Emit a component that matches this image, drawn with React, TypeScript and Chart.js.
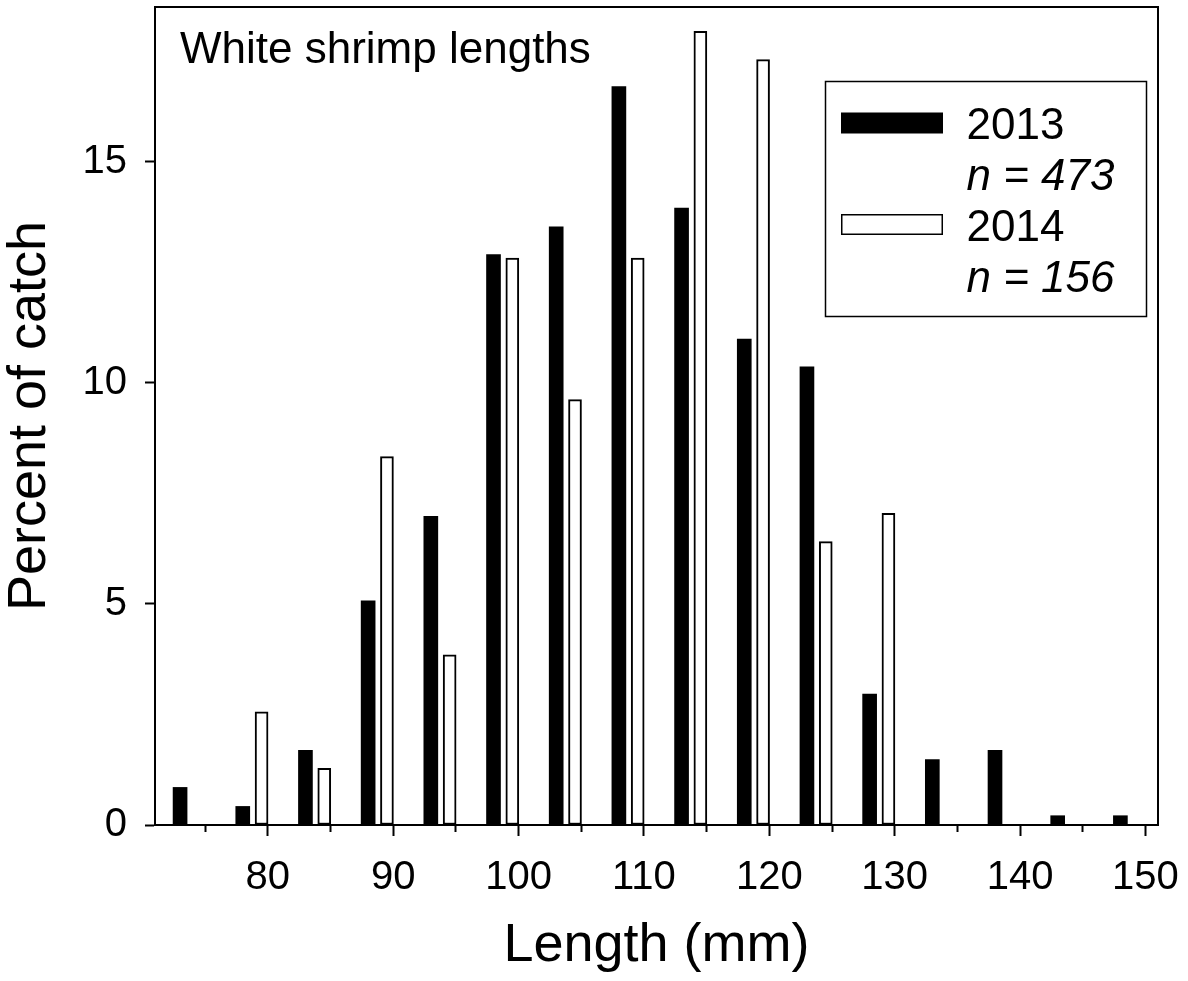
import React, { useEffect, useRef } from 'react';
import { Chart, registerables } from 'chart.js';

Chart.register(...registerables);

// ---- Data ----
const chartTitle = 'White shrimp lengths';
const xAxisTitle = 'Length (mm)';
const yAxisTitle = 'Percent of catch';

const years = ['2013', '2014'];
const sampleSizes = [473, 156];

// bar positions along the length axis (mm)
const lengths2013 = [73, 78, 83, 88, 93, 98, 103, 108, 113, 118, 123, 128, 133, 138, 143, 148];
const percent2013 = [0.85, 0.42, 1.69, 5.07, 6.98, 12.9, 13.53, 16.7, 13.95, 10.99, 10.36, 2.96, 1.48, 1.69, 0.21, 0.21];

const lengths2014 = [79.5, 84.5, 89.5, 94.5, 99.5, 104.5, 109.5, 114.5, 119.5, 124.5, 129.5];
const percent2014 = [2.56, 1.28, 8.33, 3.85, 12.82, 9.62, 12.82, 17.95, 17.31, 6.41, 7.05];

const xMajorTicks = [80, 90, 100, 110, 120, 130, 140, 150];
const xMinorTicks = [75, 85, 95, 105, 115, 125, 135, 145];
const yTicks = [0, 5, 10, 15];

const xMin = 71;
const xMax = 151;
const yMin = 0;
const yMax = 18.5;

const FONT = '"Liberation Sans", Arial, Helvetica, sans-serif';

const framePlugin = {
  id: 'frame',
  afterDatasetsDraw(chart: any) {
    const { ctx, chartArea } = chart;
    ctx.save();
    ctx.strokeStyle = '#000';
    ctx.lineWidth = 2;
    ctx.strokeRect(chartArea.left, chartArea.top, chartArea.right - chartArea.left, chartArea.bottom - chartArea.top);
    ctx.restore();
  },
};

const innerTitlePlugin = {
  id: 'innerTitle',
  afterDraw(chart: any) {
    const { ctx, chartArea } = chart;
    ctx.save();
    ctx.fillStyle = '#000';
    ctx.font = `44px ${FONT}`;
    ctx.textAlign = 'left';
    ctx.textBaseline = 'alphabetic';
    ctx.fillText(chartTitle, chartArea.left + 25, chartArea.top + 56);
    ctx.restore();
  },
};

const boxLegendPlugin = {
  id: 'boxLegend',
  afterDraw(chart: any) {
    const { ctx, chartArea } = chart;
    const boxW = 321;
    const boxH = 235;
    const x0 = chartArea.right - 11.5 - boxW;
    const y0 = chartArea.top + 74.5;
    ctx.save();
    ctx.fillStyle = '#fff';
    ctx.fillRect(x0, y0, boxW, boxH);
    ctx.strokeStyle = '#000';
    ctx.lineWidth = 1.5;
    ctx.strokeRect(x0, y0, boxW, boxH);
    chart.data.datasets.forEach((ds: any, i: number) => {
      const sx = x0 + 15.5;
      const sy = y0 + 31 + i * 101.5;
      const sw = 102;
      const sh = 21;
      ctx.fillStyle = ds.backgroundColor;
      ctx.fillRect(sx, sy, sw, sh);
      if (ds.borderWidth) {
        ctx.strokeStyle = ds.borderColor;
        ctx.lineWidth = 1.5;
        ctx.strokeRect(sx + 0.75, sy + 0.75, sw - 1.5, sh - 1.5);
      }
      ctx.fillStyle = '#000';
      ctx.textAlign = 'left';
      ctx.textBaseline = 'alphabetic';
      ctx.font = `44px ${FONT}`;
      const baseline = sy + sh / 2 + 16;
      ctx.fillText(years[i], x0 + 141, baseline);
      ctx.font = `italic 44px ${FONT}`;
      ctx.fillText(`n = ${sampleSizes[i]}`, x0 + 141, baseline + 51);
    });
    ctx.restore();
  },
};

const zeroPadding = (s: any) => {
  s.paddingTop = 0;
  s.paddingBottom = 0;
  s.paddingLeft = 0;
  s.paddingRight = 0;
};

export default function App() {
  const canvasRef = useRef<HTMLCanvasElement | null>(null);

  useEffect(() => {
    if (!canvasRef.current) return;
    Chart.defaults.font.family = FONT;
    Chart.defaults.color = '#000';

    const chart = new Chart(canvasRef.current, {
      type: 'bar',
      data: {
        datasets: [
          {
            label: years[0],
            data: lengths2013.map((x, i) => ({ x, y: percent2013[i] })),
            backgroundColor: '#000',
            borderColor: '#000',
            borderWidth: 0,
            barThickness: 14,
            grouped: false,
            xAxisID: 'x',
            yAxisID: 'y',
          },
          {
            label: years[1],
            data: lengths2014.map((x, i) => ({ x, y: percent2014[i] })),
            backgroundColor: '#fff',
            borderColor: '#000',
            borderWidth: 2,
            borderSkipped: false,
            barThickness: 13,
            grouped: false,
            xAxisID: 'x',
            yAxisID: 'y',
          },
        ],
      },
      options: {
        animation: false,
        responsive: true,
        maintainAspectRatio: false,
        events: [],
        layout: { padding: { top: 7, right: 30, left: 0, bottom: 0 } },
        plugins: {
          legend: { display: false },
          tooltip: { enabled: false },
          title: { display: false },
        },
        scales: {
          x: {
            type: 'linear',
            position: 'bottom',
            weight: 1,
            min: xMin,
            max: xMax,
            offset: false,
            afterBuildTicks: (s: any) => {
              s.ticks = xMajorTicks.map((v) => ({ value: v }));
            },
            afterFit: (s: any) => {
              s.height = 156;
              zeroPadding(s);
            },
            ticks: {
              color: '#000',
              font: { size: 40 },
              padding: 18,
              maxRotation: 0,
              autoSkip: false,
              includeBounds: false,
            },
            grid: {
              offset: false,
              drawOnChartArea: false,
              drawTicks: true,
              tickLength: 11,
              tickWidth: 2,
              tickColor: '#000',
            },
            border: { display: true, color: '#000', width: 2 },
            title: {
              display: true,
              text: xAxisTitle,
              color: '#000',
              font: { size: 54, lineHeight: 1 },
              padding: { top: 0, bottom: 8 },
            },
          },
          xMinor: {
            type: 'linear',
            position: 'bottom',
            weight: 0,
            min: xMin,
            max: xMax,
            offset: false,
            afterBuildTicks: (s: any) => {
              s.ticks = xMinorTicks.map((v) => ({ value: v }));
            },
            afterFit: (s: any) => {
              s.height = 0;
              zeroPadding(s);
            },
            ticks: { display: false, includeBounds: false },
            grid: {
              offset: false,
              drawOnChartArea: false,
              drawTicks: true,
              tickLength: 7,
              tickWidth: 2,
              tickColor: '#000',
            },
            border: { display: false },
          },
          y: {
            type: 'linear',
            position: 'left',
            min: yMin,
            max: yMax,
            afterBuildTicks: (s: any) => {
              s.ticks = yTicks.map((v) => ({ value: v }));
            },
            afterFit: (s: any) => {
              s.width = 155;
              zeroPadding(s);
            },
            ticks: {
              color: '#000',
              font: { size: 40 },
              padding: 18,
              includeBounds: false,
            },
            grid: {
              drawOnChartArea: false,
              drawTicks: true,
              tickLength: 10,
              tickWidth: 2,
              tickColor: '#000',
            },
            border: { display: true, color: '#000', width: 2 },
            title: {
              display: true,
              text: yAxisTitle,
              color: '#000',
              font: { size: 54, lineHeight: 1 },
              padding: { top: 3, bottom: 0 },
            },
          },
        },
      },
      plugins: [framePlugin, innerTitlePlugin, boxLegendPlugin],
    } as any);

    return () => {
      chart.destroy();
    };
  }, []);

  return (
    <div style={{ position: 'absolute', left: 0, top: 0, width: 1188, height: 981, background: '#fff' }}>
      <canvas ref={canvasRef} />
    </div>
  );
}
